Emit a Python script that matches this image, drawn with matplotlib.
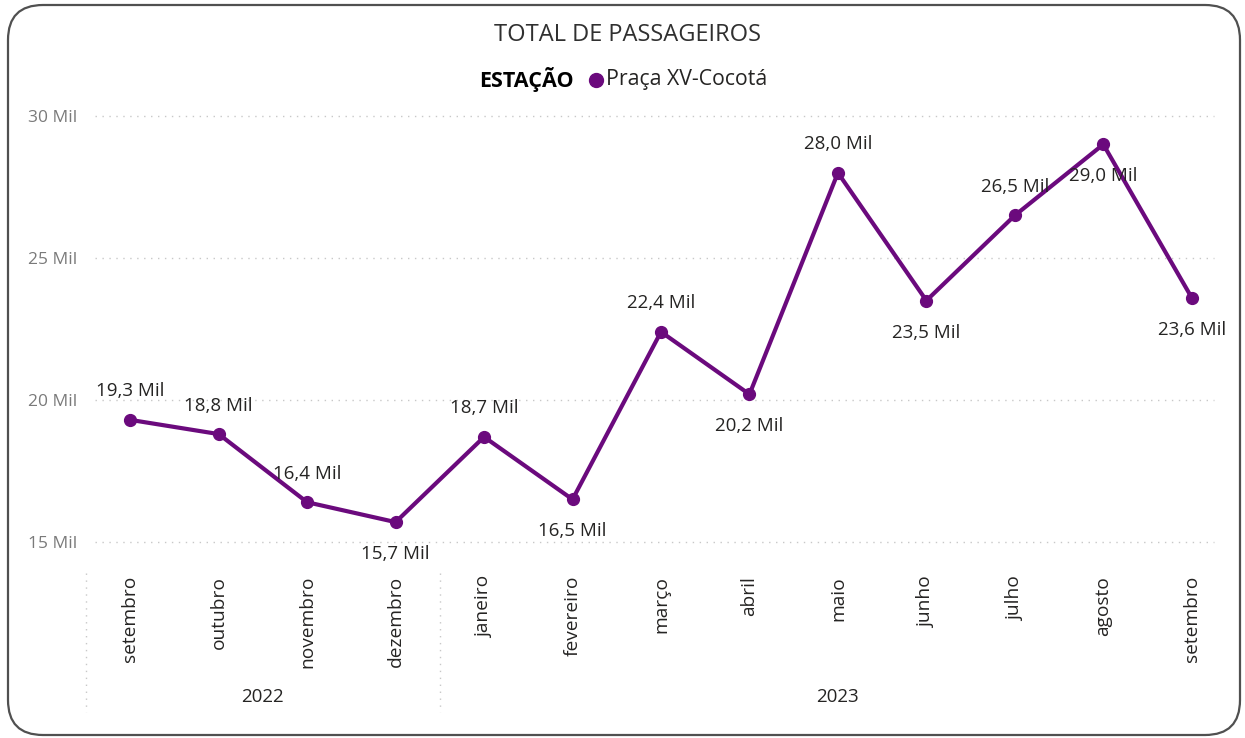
import matplotlib.pyplot as plt
from matplotlib.patches import FancyBboxPatch

# data (thousands of passengers)
months = ['setembro', 'outubro', 'novembro', 'dezembro', 'janeiro', 'fevereiro',
          'março', 'abril', 'maio', 'junho', 'julho', 'agosto', 'setembro']
years = ['2022', '2023']
months_per_year = [4, 9]
passageiros = [19.3, 18.8, 16.4, 15.7, 18.7, 16.5, 22.4, 20.2, 28.0, 23.5, 26.5, 29.0, 23.6]
label_pos = ['up', 'up', 'up', 'down', 'up', 'down', 'up', 'down', 'up', 'down', 'up', 'down', 'down']
yticks = [15, 20, 25, 30]

W, H = 1245, 738
plt.rcParams['font.family'] = ['Open Sans', 'DejaVu Sans']
fig = plt.figure(figsize=(W / 100, H / 100), dpi=100)

# rounded frame
frame = FancyBboxPatch((0.08, 0.03), 12.32, 7.30, boxstyle='round,pad=0,rounding_size=0.35',
                       transform=fig.dpi_scale_trans, facecolor='none', edgecolor='#505050',
                       linewidth=1.6, zorder=0)
fig.patches.append(frame)

# axes placed in pixel terms
x0, x1 = 86, 1236
ytop, ybot = 116, 542
ax = fig.add_axes([x0 / W, 1 - ybot / H, (x1 - x0) / W, (ybot - ytop) / H])
ax.patch.set_alpha(0)
n = len(months)
xs = list(range(n))
ax.set_xlim(-0.5, n - 0.5)
ax.set_ylim(15, 30)
for s in ax.spines.values():
    s.set_visible(False)


def py(pix):
    # pixel row -> axes y fraction
    return (ybot - pix) / (ybot - ytop)


purple = '#6B0A7D'
for t in yticks:
    ax.plot([-0.4, n - 0.75], [t, t], color='#C8C8C8', linestyle=(0, (1, 4)), linewidth=1,
            clip_on=False, zorder=1)
ax.plot(xs, passageiros, color=purple, linewidth=3, marker='o', markersize=8.5,
        clip_on=False, zorder=3)

ax.set_yticks(yticks)
ax.set_yticklabels(['%d Mil' % t for t in yticks], fontsize=12.5, color='#7A7A7A')
ax.tick_params(axis='y', length=0, pad=6)
ax.set_xticks([])

for x, v, p in zip(xs, passageiros, label_pos):
    txt = ('%.1f Mil' % v).replace('.', ',')
    off = 20.5 if p == 'up' else -23
    ax.annotate(txt, (x, v), xytext=(0, off), textcoords='offset points', ha='center',
                va='center', fontsize=13.5, color='#252423', zorder=4)

xtr = ax.get_xaxis_transform()
# month labels (rotated)
for x, m in zip(xs, months):
    ax.text(x, py(576), m, transform=xtr, rotation=90, ha='center', va='top',
            fontsize=13.8, color='#252423')

# year labels and separators
start = 0
for yr, k in zip(years, months_per_year):
    mid = start + (k - 1) / 2
    ax.text(mid, py(697), yr, transform=xtr, ha='center', va='center', fontsize=13.5,
            color='#252423')
    ax.plot([start - 0.5, start - 0.5], [py(573), py(712)], transform=xtr,
            color='#C8C8C8', linestyle=(0, (1, 4)), linewidth=1, clip_on=False)
    start += k

# title and legend
fig.text(628 / W, 1 - 35 / H, 'TOTAL DE PASSAGEIROS', ha='center', va='center',
         fontsize=17, color='#303030')
fig.text(479 / W, 1 - 80 / H, 'ESTAÇÃO', ha='left', va='center', fontsize=15.5,
         fontweight='bold', color='#000000')
fig.lines.append(plt.Line2D([596 / W], [1 - 80 / H], marker='o', markersize=10, color=purple,
                            transform=fig.transFigure))
fig.text(606 / W, 1 - 80 / H, 'Praça XV-Cocotá', ha='left', va='center', fontsize=15.3,
         color='#252423')

fig.savefig('out.png', dpi=100)
